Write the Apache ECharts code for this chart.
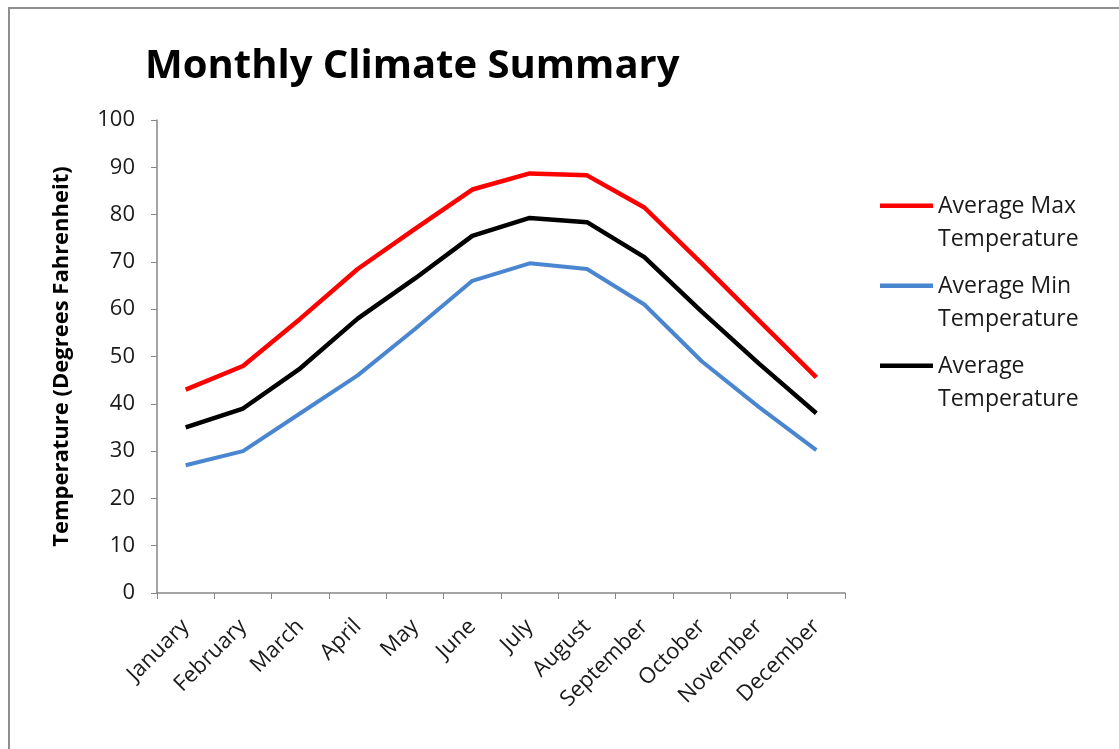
<!DOCTYPE html>
<html>
<head>
<meta charset="utf-8">
<script src="https://cdn.jsdelivr.net/npm/echarts@6/dist/echarts.min.js"></script>
<style>
html,body{margin:0;padding:0;background:#fff;}
#chart{width:1119px;height:749px;}
</style>
</head>
<body>
<div id="chart"></div>
<script>
const months = ['January','February','March','April','May','June','July','August','September','October','November','December'];
const avgMax = [43, 48, 58, 68.5, 77, 85.3, 88.7, 88.3, 81.5, 69.7, 57.6, 45.6];
const avgMin = [27, 30, 38, 46, 55.8, 66, 69.7, 68.5, 61, 49, 39.3, 30.2];
const avgTemp = [35, 39, 47.5, 58, 66.5, 75.5, 79.3, 78.4, 71, 59.5, 48.5, 38];
const seriesNames = ['Average Max\nTemperature', 'Average Min\nTemperature', 'Average\nTemperature'];
const yTicks = [0, 10, 20, 30, 40, 50, 60, 70, 80, 90, 100];

const FONT = '"Open Sans", sans-serif';
// legend icon: a 53x4 bar aligned with the first text line, inside a 53x70 box
const legendIcon = 'path://M0,0h0.01v0.01h-0.01z M0,15.5h53v4.5h-53z M52.99,69.99h0.01v0.01h-0.01z';

const chart = echarts.init(document.getElementById('chart'), null, {renderer: 'canvas'});
chart.setOption({
  backgroundColor: '#fff',
  animation: false,
  title: {
    text: 'Monthly Climate Summary',
    left: 140, top: 42,
    textStyle: {fontFamily: FONT, fontWeight: 'bold', fontSize: 40, color: '#000'}
  },
  graphic: [{
    type: 'rect', z: -10, silent: true,
    shape: {x: 9, y: 8, width: 1200, height: 800},
    style: {fill: 'none', stroke: '#8f8f8f', lineWidth: 2}
  }],
  legend: {
    orient: 'vertical',
    left: 880, top: 188, padding: 0,
    itemWidth: 53, itemHeight: 70, itemGap: 10,
    icon: legendIcon,
    itemStyle: {borderWidth: 0},
    data: seriesNames,
    textStyle: {fontFamily: FONT, fontSize: 23, color: '#1a1a1a', lineHeight: 33}
  },
  grid: {left: 157, top: 120, right: 274, bottom: 156, containLabel: false},
  xAxis: {
    type: 'category',
    data: months,
    boundaryGap: true,
    axisLine: {lineStyle: {color: '#868686', width: 1.5}},
    axisTick: {show: true, alignWithLabel: false, length: 6, lineStyle: {color: '#868686'}},
    axisLabel: {rotate: 45, margin: 30, interval: 0, fontFamily: FONT, fontSize: 22, color: '#1a1a1a'},
    splitLine: {show: false}
  },
  yAxis: {
    type: 'value',
    min: 0, max: 100, interval: 10,
    name: 'Temperature (Degrees Fahrenheit)',
    nameLocation: 'middle', nameGap: 84,
    nameTextStyle: {fontFamily: FONT, fontWeight: 'bold', fontSize: 22, color: '#000'},
    axisLine: {show: true, lineStyle: {color: '#868686', width: 1.5}},
    axisTick: {show: true, length: 6, lineStyle: {color: '#868686'}},
    axisLabel: {margin: 22, fontFamily: FONT, fontSize: 22, color: '#1a1a1a',
      formatter: v => yTicks.includes(v) ? String(v) : ''},
    splitLine: {show: false}
  },
  series: [
    {name: seriesNames[0], type: 'line', data: avgMax, symbol: 'none', color: '#ff0000', lineStyle: {width: 4.5, color: '#ff0000'}},
    {name: seriesNames[1], type: 'line', data: avgMin, symbol: 'none', color: '#4a86d0', lineStyle: {width: 4, color: '#4a86d0'}},
    {name: seriesNames[2], type: 'line', data: avgTemp, symbol: 'none', color: '#000000', lineStyle: {width: 4.5, color: '#000000'}}
  ]
});
</script>
</body>
</html>
